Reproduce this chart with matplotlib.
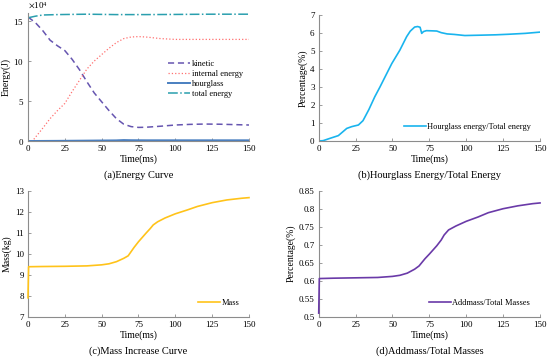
import matplotlib
matplotlib.use('Agg')
import matplotlib.pyplot as plt
from matplotlib.ticker import ScalarFormatter

plt.rcParams['font.family'] = ['Liberation Serif', 'DejaVu Serif']
plt.rcParams['mathtext.fontset'] = 'stix'

# (a) energy curves, J
t_kin = [0, 5, 10, 15, 20, 25, 30, 35, 40, 45, 50, 55, 60, 65, 70, 75, 80, 90, 100, 110, 120, 130, 140, 150]
kinetic = [15.5e4, 14.8e4, 13.8e4, 12.6e4, 11.9e4, 11.3e4, 10.2e4, 8.9e4, 7.4e4, 6.0e4, 4.9e4, 3.8e4,
           2.8e4, 2.1e4, 1.8e4, 1.7e4, 1.72e4, 1.85e4, 2.0e4, 2.08e4, 2.12e4, 2.1e4, 2.05e4, 2.0e4]
t_int = [0, 3, 10, 15, 20, 25, 30, 35, 40, 45, 50, 55, 60, 65, 70, 75, 80, 85, 90, 95, 100, 110, 125, 150]
internal = [0, 0, 1.6e4, 2.8e4, 3.8e4, 4.7e4, 6.2e4, 7.6e4, 9.0e4, 10.0e4, 10.8e4, 11.6e4, 12.3e4,
            12.8e4, 13.0e4, 13.05e4, 13.0e4, 12.9e4, 12.8e4, 12.75e4, 12.7e4, 12.7e4, 12.7e4, 12.7e4]
t_hg = [0, 20, 40, 60, 65, 70, 80, 100, 125, 150]
hourglass = [0, 0.02e4, 0.05e4, 0.08e4, 0.12e4, 0.1e4, 0.09e4, 0.09e4, 0.09e4, 0.09e4]
t_tot = [0, 5, 10, 20, 40, 60, 80, 100, 125, 150]
total = [15.4e4, 15.6e4, 15.75e4, 15.8e4, 15.85e4, 15.8e4, 15.8e4, 15.82e4, 15.85e4, 15.85e4]

# (b) hourglass energy / total energy, %
t_ratio = [0, 3, 7.7, 13.3, 19, 22.4, 26.9, 30, 34, 38, 41.5, 45, 49.5, 55, 59.6, 62, 65, 67, 68.7,
           69.8, 71, 73, 77, 80, 83, 87, 92, 99, 110, 120, 128.5, 140, 150]
hg_ratio = [0, 0.02, 0.15, 0.3, 0.7, 0.8, 0.89, 1.13, 1.75, 2.46, 3.0, 3.57, 4.3, 5.05, 5.8, 6.1,
            6.33, 6.36, 6.32, 5.98, 6.08, 6.13, 6.12, 6.11, 6.02, 5.95, 5.92, 5.86, 5.88, 5.9, 5.93, 5.98, 6.05]

# (c) mass increase, kg
t_mass = [0, 0.4, 10, 25, 40, 50, 55, 60, 65, 68, 72, 75, 80, 83, 85, 88, 93, 100, 108, 115, 125, 135, 145, 150]
mass = [7.9, 9.38, 9.39, 9.4, 9.42, 9.47, 9.52, 9.62, 9.78, 9.9, 10.3, 10.57, 10.97, 11.2, 11.37, 11.52,
        11.7, 11.9, 12.08, 12.25, 12.43, 12.56, 12.64, 12.67]

# (d) addmass / total masses, %
addmass = [0.51, 0.606, 0.607, 0.608, 0.609, 0.612, 0.615, 0.621, 0.632, 0.641, 0.661, 0.674, 0.697,
           0.713, 0.727, 0.741, 0.752, 0.765, 0.777, 0.789, 0.8, 0.808, 0.814, 0.816]

fig = plt.figure(figsize=(5.5, 3.59), dpi=100)
ax_a = fig.add_axes([0.0509, 0.6072, 0.4018, 0.3566])
ax_b = fig.add_axes([0.5795, 0.6072, 0.4024, 0.3510])
ax_c = fig.add_axes([0.0509, 0.1178, 0.4018, 0.3510])
ax_d = fig.add_axes([0.5795, 0.1178, 0.4024, 0.3510])

spine_col = '#8c8c8c'
for ax in (ax_a, ax_b, ax_c, ax_d):
    ax.spines['top'].set_visible(False)
    ax.spines['right'].set_visible(False)
    ax.spines['left'].set_color(spine_col)
    ax.spines['bottom'].set_color(spine_col)
    ax.tick_params(direction='in', length=2, width=0.6, color=spine_col, labelsize=6.5, pad=3)
    ax.set_xlim(0, 150)
    ax.set_xticks([0, 25, 50, 75, 100, 125, 150])
    ax.set_xlabel('Time(ms)', fontsize=7, labelpad=1)

leg_kw = dict(frameon=False, fontsize=6, handlelength=2.6, handletextpad=0.2, labelspacing=0.25,
              borderaxespad=0)

# (a)
ax_a.plot(t_kin, kinetic, '--', color='#6655b0', lw=1.1, dashes=(4, 2.5), label='kinetic')
ax_a.plot(t_int, internal, ':', color='#ff7070', lw=0.9, label='internal energy')
ax_a.plot(t_hg, hourglass, '-', color='#4a7fc0', lw=1.4, label='hourglass')
ax_a.plot(t_tot, total, '-.', color='#2a9fae', lw=1.1, label='total energy')
ax_a.set_ylim(0, 16e4)
ax_a.set_yticks([0, 5e4, 10e4, 15e4])
fmt = ScalarFormatter(useMathText=True)
fmt.set_powerlimits((4, 4))
ax_a.yaxis.set_major_formatter(fmt)
ax_a.yaxis.get_offset_text().set_fontsize(6.5)
ax_a.set_ylabel('Energy(J)', fontsize=7, labelpad=2)
ax_a.legend(loc='upper left', bbox_to_anchor=(0.62, 0.66), **leg_kw)
fig.text(0.2518, 0.512, '(a)Energy Curve', ha='center', va='center', fontsize=7.5)

# (b)
ax_b.plot(t_ratio, hg_ratio, color='#19b4ee', lw=1.2, label='Hourglass energy/Total energy')
ax_b.set_ylim(0, 7)
ax_b.set_yticks(range(8))
ax_b.set_ylabel('Percentage(%)', fontsize=7, labelpad=2)
ax_b.legend(loc='lower right', bbox_to_anchor=(0.975, 0.05), **leg_kw)
fig.text(0.7807, 0.512, '(b)Hourglass Energy/Total Energy', ha='center', va='center', fontsize=7.5)

# (c)
ax_c.plot(t_mass, mass, color='#ffc31a', lw=1.2, label='Mass', clip_on=False, zorder=4)
ax_c.set_ylim(7, 13)
ax_c.set_yticks(range(7, 14))
ax_c.set_ylabel('Mass(kg)', fontsize=7, labelpad=2)
ax_c.legend(loc='lower right', bbox_to_anchor=(0.97, 0.05), **leg_kw)
fig.text(0.2518, 0.022, '(c)Mass Increase Curve', ha='center', va='center', fontsize=7.5)

# (d)
ax_d.plot(t_mass, addmass, color='#6a3aa8', lw=1.2, label='Addmass/Total Masses', clip_on=False, zorder=4)
ax_d.set_ylim(0.5, 0.85)
ax_d.set_yticks([0.5, 0.55, 0.6, 0.65, 0.7, 0.75, 0.8, 0.85])
ax_d.set_yticklabels(['0.5', '0.55', '0.6', '0.65', '0.7', '0.75', '0.8', '0.85'])
ax_d.set_ylabel('Percentage(%)', fontsize=7, labelpad=2)
ax_d.legend(loc='lower right', bbox_to_anchor=(0.97, 0.05), **leg_kw)
fig.text(0.7807, 0.022, '(d)Addmass/Total Masses', ha='center', va='center', fontsize=7.5)

fig.savefig('out.png', dpi=100)
